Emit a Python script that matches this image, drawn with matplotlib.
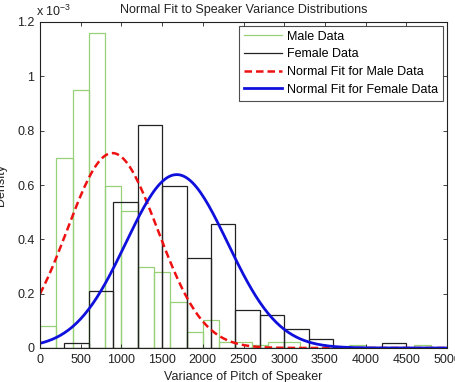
import numpy as np
import matplotlib
matplotlib.use("Agg")
import matplotlib.pyplot as plt
from matplotlib.lines import Line2D

plt.rcParams['font.family'] = ['Liberation Sans', 'DejaVu Sans']

# Male histogram (bin left edges, bin width 200), density in units of 1e-3
male_bins = [0, 200, 400, 600, 800, 1000, 1200, 1400, 1600, 1800, 2000, 2200,
             2400, 2600, 2800, 3000, 3200, 3400, 3600, 3800, 4000, 4200, 4400,
             4600]
male_density = [0.08, 0.70, 0.95, 1.16, 0.595, 0.505, 0.298, 0.278, 0.171, 0.058,
                0.103, 0.023, 0.023, 0.012, 0.023, 0.023, 0.0, 0.0, 0.0, 0.012,
                0.0, 0.0, 0.0, 0.012]
male_width = 200

# Female histogram (bin left edges, bin width 300)
female_bins = [0, 300, 600, 900, 1200, 1500, 1800, 2100, 2400, 2700, 3000, 3300,
               3600, 3900, 4200]
female_density = [0.0, 0.017, 0.21, 0.537, 0.82, 0.595, 0.333, 0.456, 0.14, 0.122,
                  0.069, 0.034, 0.0, 0.0, 0.017]
female_width = 300

# Normal fit parameters (mean, std)
male_mu, male_sigma = 890.0, 556.0
female_mu, female_sigma = 1680.0, 625.0

xticks = [0, 500, 1000, 1500, 2000, 2500, 3000, 3500, 4000, 4500, 5000]
yticks = [0, 0.2, 0.4, 0.6, 0.8, 1.0, 1.2]
ytick_labels = ['0', '0.2', '0.4', '0.6', '0.8', '1', '1.2']

fs = 9
fig = plt.figure(figsize=(4.56, 3.82), dpi=100)
ax = fig.add_axes([40/456, 1-348/382, (447-40)/456, (348-22)/382])

green = '#98d078'
dark = '#222222'
ax.bar(male_bins, male_density, width=male_width, align='edge', fill=False,
       edgecolor=green, linewidth=0.9)
ax.bar(female_bins, female_density, width=female_width, align='edge', fill=False,
       edgecolor=dark, linewidth=0.9)

x = np.linspace(0, 5000, 201)
def npdf(x, mu, s):
    return np.exp(-0.5*((x-mu)/s)**2)/(s*np.sqrt(2*np.pi))*1e3
ax.plot(x, npdf(x, male_mu, male_sigma), color='#ee1111', linestyle='--',
        linewidth=1.8, dashes=(3, 1.6))
ax.plot(x, npdf(x, female_mu, female_sigma), color='#1010dd', linewidth=2.0)

ax.set_xlim(0, 5000)
ax.set_ylim(0, 1.2)
ax.set_xticks(xticks)
ax.set_xticklabels([str(t) for t in xticks])
ax.set_yticks(yticks)
ax.set_yticklabels(ytick_labels)
ax.tick_params(direction='in', top=True, right=True, labelsize=fs, length=3,
               width=0.6, pad=4, colors=dark, labelcolor=dark)
for sp in ax.spines.values():
    sp.set_linewidth(0.8)
    sp.set_color(dark)

ax.set_xlabel('Variance of Pitch of Speaker', fontsize=fs, labelpad=4, color=dark)
ax.set_ylabel('Density', fontsize=fs, labelpad=7, color=dark)
ax.set_title('Normal Fit to Speaker Variance Distributions', fontsize=fs,
             pad=6.5, color=dark)
fig.text(36/456, 1-16/382, r'x 10$^{\mathregular{-3}}$', fontsize=fs,
         color=dark, va='baseline')

handles = [Line2D([], [], color=green, lw=0.9),
           Line2D([], [], color=dark, lw=0.9),
           Line2D([], [], color='#ee1111', lw=1.8, linestyle='--', dashes=(3, 1.6)),
           Line2D([], [], color='#1010dd', lw=2.0)]
labels = ['Male Data', 'Female Data', 'Normal Fit for Male Data',
          'Normal Fit for Female Data']
leg = ax.legend(handles, labels, loc='upper right', fontsize=fs, frameon=True,
                fancybox=False, edgecolor=dark, handlelength=3.0,
                handletextpad=0.45, borderaxespad=0.3, labelspacing=0.45,
                borderpad=0.4)
leg.get_frame().set_linewidth(0.8)

fig.savefig('out.png', dpi=100)
